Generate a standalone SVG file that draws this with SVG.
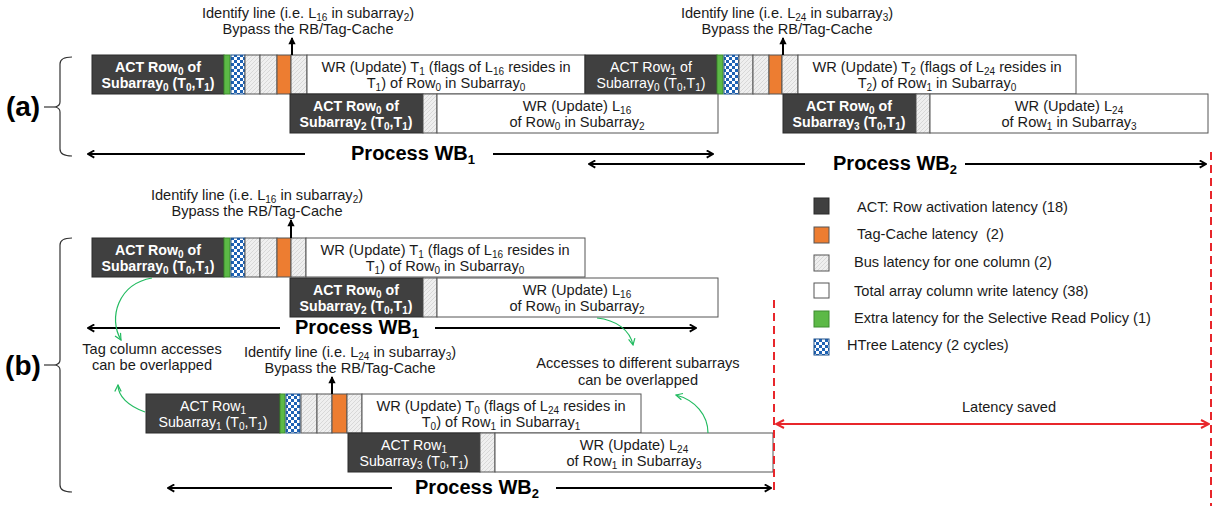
<svg xmlns="http://www.w3.org/2000/svg" width="1217" height="506" viewBox="0 0 1217 506">
<style>
text{font-family:"Liberation Sans",Arial,sans-serif;}
.t{font-size:14.6px;fill:#1a1a1a;text-anchor:middle}
.l{font-size:14.6px;fill:#1a1a1a;text-anchor:start}
.w{font-size:14.2px;fill:#fff;text-anchor:middle}
.b{font-weight:bold}
.s{font-size:10px;baseline-shift:-3px}
.p{font-size:20px;font-weight:bold;fill:#000;text-anchor:middle}
.ps{font-size:13px;baseline-shift:-4px}
.lab{font-size:28px;font-weight:bold;fill:#000;text-anchor:middle}
.dk{fill:#404040;stroke:#2a2a2a;stroke-width:1}
.wh{fill:#fff;stroke:#555;stroke-width:1}
.ht{fill:url(#hatch);stroke:#555;stroke-width:1}
.ck{fill:url(#chk);stroke:#1b4e8a;stroke-width:1}
.or{fill:#ed7d31;stroke:#555;stroke-width:1}
.gr{fill:#5cb946;stroke:#3d8c2e;stroke-width:1}
.arr{stroke:#000;stroke-width:2;fill:none;marker-end:url(#ah)}
.up{stroke:#000;stroke-width:2;fill:none;marker-end:url(#ahs)}
.gc{stroke:#22bb60;stroke-width:1.2;fill:none;marker-end:url(#ag)}
.br{stroke:#333;stroke-width:1.2;fill:none}
.rd{stroke:#e8262b;stroke-width:2;stroke-dasharray:8,5;fill:none}
</style>
<defs>
<pattern id="hatch" patternUnits="userSpaceOnUse" width="4" height="4">
<rect width="4" height="4" fill="#efefef"/>
<path d="M0,4 L4,0 M-1,1 L1,-1 M3,5 L5,3" stroke="#d2d2d2" stroke-width="0.8"/>
</pattern>
<pattern id="chk" patternUnits="userSpaceOnUse" width="6" height="6">
<rect width="6" height="6" fill="#fff"/>
<rect width="3" height="3" fill="#1f63b5"/>
<rect x="3" y="3" width="3" height="3" fill="#1f63b5"/>
</pattern>
<marker id="ah" viewBox="0 0 10 10" refX="9" refY="5" markerWidth="9" markerHeight="9" markerUnits="userSpaceOnUse" orient="auto-start-reverse">
<path d="M2,1 L9,5 L2,9" fill="none" stroke="#000" stroke-width="2"/>
</marker>
<marker id="ahs" viewBox="0 0 10 10" refX="8" refY="5" markerWidth="9" markerHeight="9" markerUnits="userSpaceOnUse" orient="auto">
<path d="M1,1 L9,5 L1,9 Z" fill="#000"/>
</marker>
<marker id="ag" viewBox="0 0 10 10" refX="9" refY="5" markerWidth="8" markerHeight="8" markerUnits="userSpaceOnUse" orient="auto">
<path d="M1,1 L9,5 L1,9" fill="none" stroke="#22bb60" stroke-width="1.5"/>
</marker>
<marker id="ar" viewBox="0 0 10 10" refX="9" refY="5" markerWidth="10" markerHeight="10" markerUnits="userSpaceOnUse" orient="auto-start-reverse">
<path d="M1,1 L9,5 L1,9" fill="none" stroke="#e8262b" stroke-width="2"/>
</marker>
</defs>
<rect width="1217" height="506" fill="#fff"/>

<!-- ===== (a) ===== -->
<g id="label-a">
<text class="lab" x="23" y="116">(a)</text>
<path class="br" d="M44,107 L55,107"/>
<path class="br" d="M72,57 Q60,57 60,64 L60,102 Q60,106 55,107 Q60,108 60,112 L60,149 Q60,156 72,156"/>
</g>

<g id="a-note1">
<text class="t" x="308" y="18">Identify line (i.e. L<tspan class="s">16</tspan> in subarray<tspan class="s">2</tspan>)</text>
<text class="t" x="308" y="34">Bypass the RB/Tag-Cache</text>
</g>
<g id="a-note2">
<text class="t" x="787" y="18">Identify line (i.e. L<tspan class="s">24</tspan> in subarray<tspan class="s">3</tspan>)</text>
<text class="t" x="787" y="34">Bypass the RB/Tag-Cache</text>
</g>

<g id="a-act-row0-sub0">
<rect class="dk" x="92" y="55" width="132" height="39"/>
<text class="w b" x="158" y="72">ACT Row<tspan class="s">0</tspan> of</text>
<text class="w b" x="158" y="88">Subarray<tspan class="s">0</tspan> (T<tspan class="s">0</tspan>,T<tspan class="s">1</tspan>)</text>
</g>
<g id="a-lat1">
<rect class="gr" x="224" y="55" width="6" height="39"/>
<rect class="ck" x="231" y="55" width="14" height="39"/>
<rect class="ht" x="245" y="55" width="15" height="39"/>
<rect class="ht" x="260" y="55" width="17" height="39"/>
<rect class="or" x="277" y="55" width="14" height="39"/>
<rect class="ht" x="291" y="55" width="16" height="39"/>
</g>
<g id="a-wr-t1">
<rect class="wh" x="307" y="55" width="278" height="39"/>
<text class="t" x="446" y="72">WR (Update) T<tspan class="s">1</tspan> (flags of L<tspan class="s">16</tspan> resides in</text>
<text class="t" x="446" y="88">T<tspan class="s">1</tspan>) of Row<tspan class="s">0</tspan> in Subarray<tspan class="s">0</tspan></text>
</g>
<g id="a-act-row1-sub0">
<rect class="dk" x="585" y="55" width="132" height="39"/>
<text class="w" x="651" y="72">ACT Row<tspan class="s">1</tspan> of</text>
<text class="w" x="651" y="88">Subarray<tspan class="s">0</tspan> (T<tspan class="s">0</tspan>,T<tspan class="s">1</tspan>)</text>
</g>
<g id="a-lat2">
<rect class="gr" x="717" y="55" width="6" height="39"/>
<rect class="ck" x="724" y="55" width="15" height="39"/>
<rect class="ht" x="739" y="55" width="14" height="39"/>
<rect class="ht" x="753" y="55" width="16" height="39"/>
<rect class="or" x="769" y="55" width="13" height="39"/>
<rect class="ht" x="782" y="55" width="16" height="39"/>
</g>
<g id="a-wr-t2">
<rect class="wh" x="798" y="55" width="278" height="39"/>
<text class="t" x="937" y="72">WR (Update) T<tspan class="s">2</tspan> (flags of L<tspan class="s">24</tspan> resides in</text>
<text class="t" x="937" y="88">T<tspan class="s">2</tspan>) of Row<tspan class="s">1</tspan> in Subarray<tspan class="s">0</tspan></text>
</g>
<g id="a-act-row0-sub2">
<rect class="dk" x="290" y="94" width="133" height="39"/>
<text class="w b" x="356" y="111">ACT Row<tspan class="s">0</tspan> of</text>
<text class="w b" x="356" y="127">Subarray<tspan class="s">2</tspan> (T<tspan class="s">0</tspan>,T<tspan class="s">1</tspan>)</text>
</g>
<rect id="a-bus-sub2" class="ht" x="423" y="94" width="14" height="39"/>
<g id="a-wr-l16">
<rect class="wh" x="437" y="94" width="281" height="39"/>
<text class="t" x="577" y="111">WR (Update) L<tspan class="s">16</tspan></text>
<text class="t" x="577" y="127">of Row<tspan class="s">0</tspan> in Subarray<tspan class="s">2</tspan></text>
</g>
<g id="a-act-row0-sub3">
<rect class="dk" x="783" y="94" width="133" height="39"/>
<text class="w b" x="849" y="111">ACT Row<tspan class="s">0</tspan> of</text>
<text class="w b" x="849" y="127">Subarray<tspan class="s">3</tspan> (T<tspan class="s">0</tspan>,T<tspan class="s">1</tspan>)</text>
</g>
<rect id="a-bus-sub3" class="ht" x="916" y="94" width="14" height="39"/>
<g id="a-wr-l24">
<rect class="wh" x="930" y="94" width="278" height="39"/>
<text class="t" x="1069" y="111">WR (Update) L<tspan class="s">24</tspan></text>
<text class="t" x="1069" y="127">of Row<tspan class="s">1</tspan> in Subarray<tspan class="s">3</tspan></text>
</g>

<g id="a-process">
<text class="p" x="413" y="160">Process WB<tspan class="ps">1</tspan></text>
<text class="p" x="895" y="170">Process WB<tspan class="ps">2</tspan></text>
</g>

<!-- ===== (b) ===== -->
<g id="label-b">
<text class="lab" x="23" y="375">(b)</text>
<path class="br" d="M44,365 L55,365"/>
<path class="br" d="M72,238 Q60,238 60,245 L60,360 Q60,364 55,365 Q60,366 60,370 L60,485 Q60,492 72,492"/>
</g>

<g id="b-note1">
<text class="t" x="257" y="200">Identify line (i.e. L<tspan class="s">16</tspan> in subarray<tspan class="s">2</tspan>)</text>
<text class="t" x="257" y="216">Bypass the RB/Tag-Cache</text>
</g>

<g id="b-act-row0-sub0">
<rect class="dk" x="92" y="238" width="132" height="39"/>
<text class="w b" x="158" y="255">ACT Row<tspan class="s">0</tspan> of</text>
<text class="w b" x="158" y="271">Subarray<tspan class="s">0</tspan> (T<tspan class="s">0</tspan>,T<tspan class="s">1</tspan>)</text>
</g>
<g id="b-lat1">
<rect class="gr" x="224" y="238" width="6" height="39"/>
<rect class="ck" x="231" y="238" width="14" height="39"/>
<rect class="ht" x="245" y="238" width="15" height="39"/>
<rect class="ht" x="260" y="238" width="17" height="39"/>
<rect class="or" x="277" y="238" width="14" height="39"/>
<rect class="ht" x="291" y="238" width="15" height="39"/>
</g>
<g id="b-wr-t1">
<rect class="wh" x="306" y="238" width="279" height="39"/>
<text class="t" x="445" y="255">WR (Update) T<tspan class="s">1</tspan> (flags of L<tspan class="s">16</tspan> resides in</text>
<text class="t" x="445" y="271">T<tspan class="s">1</tspan>) of Row<tspan class="s">0</tspan> in Subarray<tspan class="s">0</tspan></text>
</g>
<g id="b-act-row0-sub2">
<rect class="dk" x="290" y="278" width="133" height="39"/>
<text class="w b" x="356" y="295">ACT Row<tspan class="s">0</tspan> of</text>
<text class="w b" x="356" y="311">Subarray<tspan class="s">2</tspan> (T<tspan class="s">0</tspan>,T<tspan class="s">1</tspan>)</text>
</g>
<rect id="b-bus-sub2" class="ht" x="423" y="278" width="14" height="39"/>
<g id="b-wr-l16">
<rect class="wh" x="437" y="278" width="281" height="39"/>
<text class="t" x="577" y="295">WR (Update) L<tspan class="s">16</tspan></text>
<text class="t" x="577" y="311">of Row<tspan class="s">0</tspan> in Subarray<tspan class="s">2</tspan></text>
</g>

<text id="b-process1" class="p" x="357" y="334">Process WB<tspan class="ps">1</tspan></text>

<g id="b-note-tag">
<text class="t" x="152" y="354">Tag column accesses</text>
<text class="t" x="152" y="370">can be overlapped</text>
</g>
<g id="b-note2">
<text class="t" x="350" y="357">Identify line (i.e. L<tspan class="s">24</tspan> in subarray<tspan class="s">3</tspan>)</text>
<text class="t" x="350" y="373">Bypass the RB/Tag-Cache</text>
</g>
<g id="b-note-sub">
<text class="t" x="638" y="368">Accesses to different subarrays</text>
<text class="t" x="638" y="385">can be overlapped</text>
</g>

<g id="b-act-row1-sub1">
<rect class="dk" x="146" y="394" width="134" height="39"/>
<text class="w" x="213" y="411">ACT Row<tspan class="s">1</tspan></text>
<text class="w" x="213" y="427">Subarray<tspan class="s">1</tspan> (T<tspan class="s">0</tspan>,T<tspan class="s">1</tspan>)</text>
</g>
<g id="b-lat3">
<rect class="gr" x="280" y="394" width="5" height="39"/>
<rect class="ck" x="286" y="394" width="14" height="39"/>
<rect class="ht" x="301" y="394" width="16" height="39"/>
<rect class="ht" x="317" y="394" width="15" height="39"/>
<rect class="or" x="332" y="394" width="15" height="39"/>
<rect class="ht" x="347" y="394" width="15" height="39"/>
</g>
<g id="b-wr-t0">
<rect class="wh" x="362" y="394" width="279" height="39"/>
<text class="t" x="501" y="411">WR (Update) T<tspan class="s">0</tspan> (flags of L<tspan class="s">24</tspan> resides in</text>
<text class="t" x="501" y="427">T<tspan class="s">0</tspan>) of Row<tspan class="s">1</tspan> in Subarray<tspan class="s">1</tspan></text>
</g>
<g id="b-act-row1-sub3">
<rect class="dk" x="348" y="433" width="132" height="39"/>
<text class="w" x="414" y="450">ACT Row<tspan class="s">1</tspan></text>
<text class="w" x="414" y="466">Subarray<tspan class="s">3</tspan> (T<tspan class="s">0</tspan>,T<tspan class="s">1</tspan>)</text>
</g>
<rect id="b-bus-sub3" class="ht" x="480" y="433" width="15" height="39"/>
<g id="b-wr-l24">
<rect class="wh" x="495" y="433" width="278" height="39"/>
<text class="t" x="634" y="450">WR (Update) L<tspan class="s">24</tspan></text>
<text class="t" x="634" y="466">of Row<tspan class="s">1</tspan> in Subarray<tspan class="s">3</tspan></text>
</g>

<text id="b-process2" class="p" x="477" y="494">Process WB<tspan class="ps">2</tspan></text>

<!-- ===== legend ===== -->
<g id="legend">
<rect class="dk" x="814" y="198" width="15" height="16"/>
<text class="l" x="857" y="212">ACT: Row activation latency (18)</text>
<rect class="or" x="814" y="227" width="15" height="16"/>
<text class="l" x="857" y="239" xml:space="preserve">Tag-Cache latency  (2)</text>
<rect class="ht" x="814" y="255" width="15" height="16"/>
<text class="l" x="854" y="267">Bus latency for one column (2)</text>
<rect class="wh" x="814" y="283" width="15" height="15"/>
<text class="l" x="854" y="296">Total array column write latency (38)</text>
<rect class="gr" x="814" y="311" width="15" height="16"/>
<text class="l" x="854" y="323">Extra latency for the Selective Read Policy (1)</text>
<rect class="ck" x="814" y="339" width="15" height="16"/>
<text class="l" x="847" y="350">HTree Latency (2 cycles)</text>
</g>

<g id="latency-saved">
<text class="t" x="1009" y="412">Latency saved</text>
</g>

<!-- ===== connectors ===== -->
<g id="connectors">
<line class="up" x1="292" y1="55" x2="292" y2="38"/>
<line class="up" x1="783" y1="55" x2="783" y2="38"/>
<line class="up" x1="291" y1="238" x2="291" y2="220"/>
<line class="up" x1="332" y1="394" x2="332" y2="377"/>
<line class="arr" x1="305" y1="154" x2="88" y2="154"/>
<line class="arr" x1="493" y1="154" x2="713" y2="154"/>
<line class="arr" x1="805" y1="164" x2="589" y2="164"/>
<line class="arr" x1="965" y1="164" x2="1206" y2="164"/>
<line class="arr" x1="280" y1="328" x2="88" y2="328"/>
<line class="arr" x1="435" y1="328" x2="696" y2="328"/>
<line class="arr" x1="392" y1="488" x2="168" y2="488"/>
<line class="arr" x1="556" y1="488" x2="771" y2="488"/>
<path class="gc" d="M152,278 C118,284 108,318 121,340"/>
<path class="gc" d="M145,412 C128,406 118,396 118,385"/>
<path class="gc" d="M597,318 C616,320 630,330 633,345"/>
<path class="gc" d="M708,433 C708,415 695,400 676,395"/>
<line class="rd" x1="774" y1="300" x2="774" y2="494"/>
<line class="rd" x1="1211" y1="152" x2="1211" y2="506"/>
<line x1="776" y1="424" x2="1209" y2="424" stroke="#e8262b" stroke-width="2" marker-start="url(#ar)" marker-end="url(#ar)"/>
</g>
</svg>
